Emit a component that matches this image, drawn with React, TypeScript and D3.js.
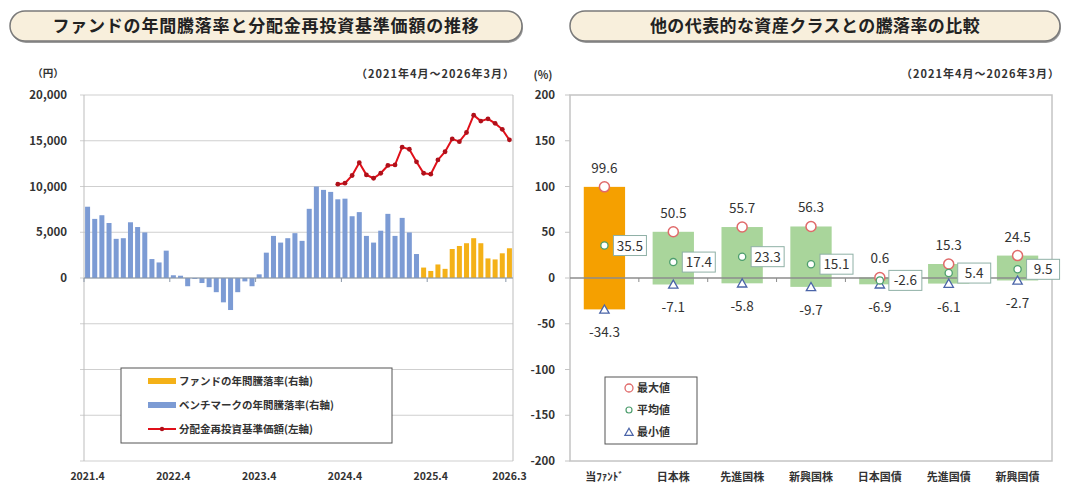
import React from 'react';
import * as d3 from 'd3';

// ---------- Data ----------
// Left chart: monthly categories 2021.4 .. 2026.3 (60 months)
const startYear = 2021;
const startMonth = 4;
const monthCount = 60;
const months: string[] = Array.from({ length: monthCount }, (_, i) => {
  const m = startMonth - 1 + i;
  return `${startYear + Math.floor(m / 12)}.${(m % 12) + 1}`;
});

// Benchmark annual return (%), right axis: 2021.4 .. 2025.2
const benchmarkReturn = [
  77.9, 64.6, 68.6, 60.1, 42.8, 43.5, 60.9, 55.7, 49.8, 20.7, 17, 29.9,
  3, 2.5, -9, -1, -5.5, -10, -15.5, -26.6, -35, -15.5, -3.7, -9,
  4, 27.7, 46, 38.7, 43.5, 49, 40.6, 75.6, 100, 96.3, 94.1, 86,
  86.7, 67.5, 72, 46, 38.7, 51.7, 70.1, 46, 65.7, 49.8, 26.2,
];
// Fund annual return (%), right axis: 2025.3 .. 2026.3
const fundReturn = [11.4, 7.7, 14.8, 10, 31.7, 35, 38, 43.5, 38, 21.4, 20.3, 27, 32.5];
// Dividend-reinvested NAV (円), left axis: 2024.3 .. 2026.3
const navValues = [
  10250, 10360, 11200, 12600, 11270, 10900, 11450, 12300, 12360, 14300, 14070, 12700,
  11450, 11350, 12900, 13800, 15200, 14900, 15900, 17800, 17150, 17400, 16900, 16250, 15100,
];
const leftTickValues = [0, 5000, 10000, 15000, 20000];
const rightTickValues = [200, 150, 100, 50, 0, -50, -100, -150, -200];
const xTickLabels = ['2021.4', '2022.4', '2023.4', '2024.4', '2025.4', '2026.3'];

// Right chart
const assetClasses = ['当ﾌｧﾝﾄﾞ', '日本株', '先進国株', '新興国株', '日本国債', '先進国債', '新興国債'];
const maxValues = [99.6, 50.5, 55.7, 56.3, 0.6, 15.3, 24.5];
const avgValues = [35.5, 17.4, 23.3, 15.1, -2.6, 5.4, 9.5];
const minValues = [-34.3, -7.1, -5.8, -9.7, -6.9, -6.1, -2.7];

const leftTitle = 'ファンドの年間騰落率と分配金再投資基準価額の推移';
const rightTitle = '他の代表的な資産クラスとの騰落率の比較';
const periodText = '（2021年4月～2026年3月）';

const FONT = '"Noto Sans CJK JP", "Noto Sans", sans-serif';
const TXT = '#333';

function Banner({ x, w, text, ls }: { x: number; w: number; text: string; ls: number }) {
  return (
    <g>
      <rect x={x + 1} y={13} width={w} height={30} rx={15} fill="#9a9a9a" />
      <rect x={x} y={11} width={w} height={30} rx={15} fill="#f8efdc" stroke="#7a7a7a" strokeWidth={1.5} />
      <text x={x + w / 2} y={32} textAnchor="middle" fontSize={17} fontWeight="bold" fill="#222" letterSpacing={ls} fontFamily={FONT}>
        {text}
      </text>
    </g>
  );
}

export default function App() {
  // ---- Left chart scales ----
  const x = d3.scaleBand<string>().domain(months).range([84, 513]).paddingInner(0.3).paddingOuter(0.15);
  const yR = d3.scaleLinear().domain([-200, 200]).range([461, 95]);
  const yL = d3.scaleLinear().domain([-20000, 20000]).range([461, 95]);
  const step = x.step();

  const benchMonths = months.slice(0, benchmarkReturn.length);
  const fundMonths = months.slice(monthCount - fundReturn.length);
  const navMonths = months.slice(monthCount - navValues.length);

  const navPts: [number, number][] = navValues.map((v, i) => [
    (x(navMonths[i]) ?? 0) + x.bandwidth() / 2,
    yL(v),
  ]);
  const line = d3.line();

  const xTickIdx = xTickLabels.map((l) => months.indexOf(l));

  // ---- Right chart scales ----
  const xc = d3.scaleBand<string>().domain(assetClasses).range([570, 1052]).padding(0);
  const yc = d3.scaleLinear().domain([-200, 200]).range([461, 95]);
  const bw = xc.bandwidth() * 0.6;

  const tri = d3.symbol().type(d3.symbolTriangle).size(38);

  return (
    <svg
      width={1069}
      height={485}
      style={{ position: 'absolute', left: 0, top: 0, background: '#fff' }}
      fontFamily={FONT}
    >
      <rect x={0} y={0} width={1069} height={485} fill="#fff" />
      <Banner x={10} w={512} text={leftTitle} ls={0.8} />
      <Banner x={570} w={490} text={rightTitle} ls={0.4} />

      {/* ---------------- Left chart ---------------- */}
      <text x={48} y={77} textAnchor="middle" fontSize={10.5} fontWeight="bold" fill={TXT}>（円）</text>
      <text x={515} y={78} textAnchor="end" fontSize={11} fontWeight="bold" letterSpacing={1} fill={TXT}>{periodText}</text>

      {rightTickValues.map((v) => (
        <line key={'g' + v} x1={80} x2={513} y1={yR(v)} y2={yR(v)} stroke="#cfcfcf" strokeWidth={1} />
      ))}
      <line x1={84} x2={84} y1={95} y2={461} stroke="#bdbdbd" />
      <line x1={513} x2={513} y1={95} y2={461} stroke="#bdbdbd" />

      {leftTickValues.map((v) => (
        <text key={'lt' + v} x={67} y={yL(v) + 4} textAnchor="end" fontSize={11.5} fontWeight="bold" fill={TXT}>
          {d3.format(',')(v)}
        </text>
      ))}

      {benchmarkReturn.map((v, i) => (
        <rect
          key={'b' + i}
          x={x(benchMonths[i])}
          y={Math.min(yR(v), yR(0))}
          width={x.bandwidth()}
          height={Math.abs(yR(v) - yR(0))}
          fill="#7c9bd4"
        />
      ))}
      {fundReturn.map((v, i) => (
        <rect
          key={'f' + i}
          x={x(fundMonths[i])}
          y={Math.min(yR(v), yR(0))}
          width={x.bandwidth()}
          height={Math.abs(yR(v) - yR(0))}
          fill="#f4b118"
        />
      ))}
      <line x1={84} x2={513} y1={yR(0)} y2={yR(0)} stroke="#8a97a8" strokeWidth={1.2} />
      {xTickIdx.map((idx, k) => (
        <line
          key={'xt' + k}
          x1={(x(months[idx]) ?? 0) - (step - x.bandwidth()) / 2}
          x2={(x(months[idx]) ?? 0) - (step - x.bandwidth()) / 2}
          y1={yR(0)}
          y2={yR(0) + 4}
          stroke="#8a97a8"
        />
      ))}

      <path d={line(navPts) ?? ''} fill="none" stroke="#e0101a" strokeWidth={2} />
      {navPts.map((p, i) => (
        <circle key={'n' + i} cx={p[0]} cy={p[1]} r={2.4} fill="#b0101a" />
      ))}

      {xTickLabels.map((l, k) => (
        <text
          key={'xl' + l}
          x={(x(months[xTickIdx[k]]) ?? 0) + x.bandwidth() / 2}
          y={480}
          textAnchor="middle"
          fontSize={10.5}
          fontWeight="bold"
          fill={TXT}
        >
          {l}
        </text>
      ))}

      {/* left legend */}
      <g>
        <rect x={121} y={368} width={271} height={75} fill="#fff" stroke="#555" strokeWidth={1} />
        <rect x={148} y={378} width={28} height={6} fill="#f4b118" />
        <text x={179} y={385} fontSize={10.5} fontWeight="bold" fill={TXT}>ファンドの年間騰落率(右軸)</text>
        <rect x={148} y={402} width={28} height={6} fill="#7c9bd4" />
        <text x={179} y={409} fontSize={10.5} fontWeight="bold" fill={TXT}>ベンチマークの年間騰落率(右軸)</text>
        <line x1={148} x2={176} y1={429} y2={429} stroke="#e0101a" strokeWidth={2} />
        <circle cx={162} cy={429} r={2.2} fill="#b0101a" />
        <text x={179} y={433} fontSize={10.5} fontWeight="bold" fill={TXT}>分配金再投資基準価額(左軸)</text>
      </g>

      {/* shared % axis labels */}
      <text x={543} y={79} textAnchor="middle" fontSize={11} fontWeight="bold" fill={TXT}>(%)</text>
      {rightTickValues.map((v) => (
        <text key={'rt' + v} x={555} y={yR(v) + 4} textAnchor="end" fontSize={11.5} fontWeight="bold" fill={TXT}>
          {v}
        </text>
      ))}

      {/* ---------------- Right chart ---------------- */}
      <text x={1060} y={78} textAnchor="end" fontSize={11} fontWeight="bold" letterSpacing={1} fill={TXT}>{periodText}</text>
      <rect x={570} y={95} width={482} height={366} fill="none" stroke="#c4c4c4" strokeWidth={1.5} />
      {rightTickValues.map((v) => (
        <line key={'rtk' + v} x1={565} x2={570} y1={yc(v)} y2={yc(v)} stroke="#c4c4c4" />
      ))}

      {assetClasses.map((c, i) => (
        <rect
          key={'rb' + c}
          x={(xc(c) ?? 0) + (xc.bandwidth() - bw) / 2}
          y={yc(maxValues[i])}
          width={bw}
          height={yc(minValues[i]) - yc(maxValues[i])}
          fill={i === 0 ? '#f5a000' : '#a9d59b'}
        />
      ))}
      <line x1={570} x2={1052} y1={yc(0)} y2={yc(0)} stroke="#8c8c8c" strokeWidth={1.5} />
      {assetClasses.slice(1).map((c) => (
        <line key={'rtt' + c} x1={xc(c)} x2={xc(c)} y1={yc(0)} y2={yc(0) + 4} stroke="#8c8c8c" />
      ))}

      {assetClasses.map((c, i) => {
        const cx = (xc(c) ?? 0) + xc.bandwidth() / 2;
        return (
          <g key={'m' + c}>
            <text x={cx} y={yc(maxValues[i]) - 14} textAnchor="middle" fontSize={13.5} fill={TXT}>
              {maxValues[i].toFixed(1)}
            </text>
            <text x={cx} y={yc(minValues[i]) + 28} textAnchor="middle" fontSize={13.5} fill={TXT}>
              {minValues[i].toFixed(1)}
            </text>
            <circle cx={cx} cy={yc(maxValues[i])} r={5} fill="#fff" stroke="#e06a6a" strokeWidth={1.5} />
            <path d={tri() ?? ''} transform={`translate(${cx},${yc(minValues[i]) + 1})`} fill="#fff" stroke="#4a64a8" strokeWidth={1.3} />
            <circle cx={cx} cy={yc(avgValues[i])} r={3.6} fill="#fff" stroke="#4e9e6e" strokeWidth={1.3} />
            <rect x={cx + 9} y={yc(avgValues[i]) - 10} width={33} height={20} fill="#fff" stroke="#8fb0a6" strokeWidth={1} />
            <text x={cx + 25.5} y={yc(avgValues[i]) + 5} textAnchor="middle" fontSize={13.5} fill={TXT}>
              {avgValues[i].toFixed(1)}
            </text>
          </g>
        );
      })}

      {assetClasses.map((c) => (
        <text
          key={'cl' + c}
          x={(xc(c) ?? 0) + xc.bandwidth() / 2}
          y={481}
          textAnchor="middle"
          fontSize={11}
          fontWeight="bold"
          fill={TXT}
        >
          {c}
        </text>
      ))}

      {/* right legend */}
      <g>
        <rect x={605} y={377} width={92} height={67} fill="#fff" stroke="#555" strokeWidth={1} />
        <circle cx={629} cy={388} r={4} fill="#fff" stroke="#e06a6a" strokeWidth={1.3} />
        <text x={637} y={392} fontSize={11} fontWeight="bold" fill={TXT}>最大値</text>
        <circle cx={629} cy={410} r={3} fill="#fff" stroke="#4e9e6e" strokeWidth={1.2} />
        <text x={637} y={414} fontSize={11} fontWeight="bold" fill={TXT}>平均値</text>
        <path d={d3.symbol().type(d3.symbolTriangle).size(30)() ?? ''} transform="translate(629,433)" fill="#fff" stroke="#4a64a8" strokeWidth={1.2} />
        <text x={637} y={436} fontSize={11} fontWeight="bold" fill={TXT}>最小値</text>
      </g>
    </svg>
  );
}
